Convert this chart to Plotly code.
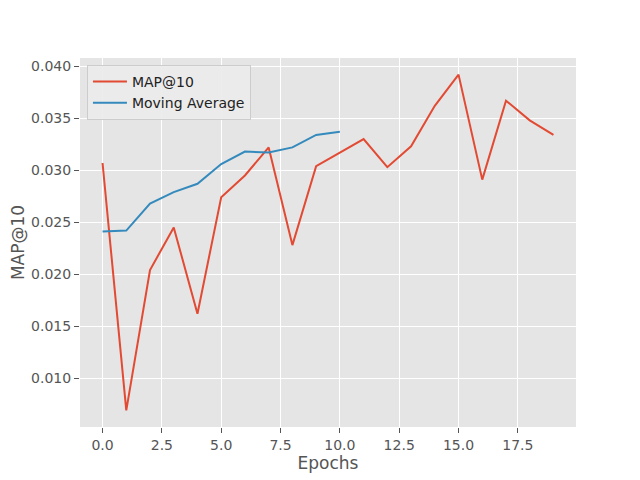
import plotly.graph_objects as go

# MAP@10 per epoch
epochs = list(range(20))
map_at_10 = [0.0307, 0.0069, 0.0204, 0.0245, 0.0162, 0.0274, 0.0295, 0.0322, 0.0228, 0.0304,
             0.0317, 0.0330, 0.0303, 0.0323, 0.0362, 0.0392, 0.0291, 0.0367, 0.0348, 0.0334]

# moving average only covers the first 11 epochs
ma_epochs = list(range(11))
moving_avg = [0.0241, 0.0242, 0.0268, 0.0279, 0.0287, 0.0306, 0.0318, 0.0317, 0.0322, 0.0334, 0.0337]

x_ticks = [0, 2.5, 5, 7.5, 10, 12.5, 15, 17.5]
y_ticks = [0.010, 0.015, 0.020, 0.025, 0.030, 0.035, 0.040]

fig = go.Figure()
fig.add_trace(go.Scatter(x=epochs, y=map_at_10, mode='lines', name='MAP@10',
                         line=dict(color='#E24A33', width=2)))
fig.add_trace(go.Scatter(x=ma_epochs, y=moving_avg, mode='lines', name='Moving Average',
                         line=dict(color='#348ABD', width=2)))

axis_common = dict(
    showgrid=True, gridcolor='white', gridwidth=1.2, zeroline=False,
    ticks='outside', ticklen=5, tickcolor='#555555', tickwidth=1,
    tickfont=dict(size=14, color='#555555'), showline=False, automargin=False,
)

# the page body has an 8px margin, so the figure is shrunk and shifted to compensate
fig.update_layout(
    width=632, height=472,
    font=dict(family='DejaVu Sans', color='#555555'),
    paper_bgcolor='white', plot_bgcolor='#E5E5E5',
    margin=dict(l=72, r=64, t=50, b=53),
    xaxis=dict(range=[-0.95, 19.95], tickvals=x_ticks,
               ticktext=[f'{v:.1f}' for v in x_ticks],
               title=dict(text='Epochs', font=dict(size=17, color='#555555'), standoff=4),
               **axis_common),
    yaxis=dict(range=[0.0053, 0.0408], tickvals=y_ticks,
               ticktext=[f'{v:.3f}' for v in y_ticks],
               title=dict(text='MAP@10', font=dict(size=17, color='#555555'), standoff=6),
               **axis_common),
    legend=dict(x=0.014, y=0.981, xanchor='left', yanchor='top',
                bgcolor='rgba(235,235,235,0.9)', bordercolor='#CCCCCC', borderwidth=1,
                font=dict(size=14, color='#222222'), itemwidth=34,
                tracegroupgap=0),
    showlegend=True,
)

fig.write_html("out.html")
